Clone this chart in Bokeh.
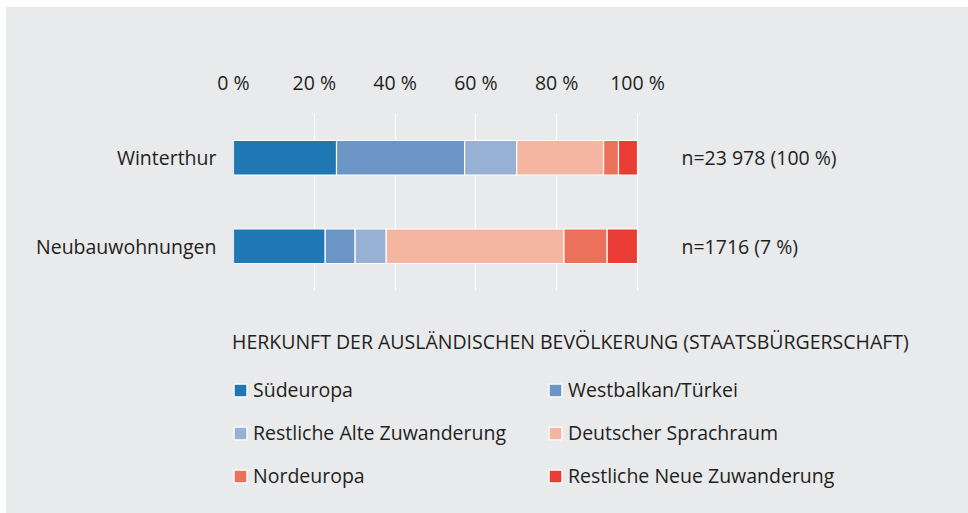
from bokeh.plotting import figure
from bokeh.layouts import column
from bokeh.models import (FactorRange, FixedTicker, Label, Legend, LegendItem)
from bokeh.embed import file_html
from bokeh.resources import INLINE

categories = ["Winterthur", "Neubauwohnungen"]
series_names = ["Südeuropa", "Westbalkan/Türkei", "Restliche Alte Zuwanderung",
                "Deutscher Sprachraum", "Nordeuropa", "Restliche Neue Zuwanderung"]
suedeuropa = [25.5, 22.7]
westbalkan = [31.7, 7.4]
alte_zuwanderung = [12.9, 7.7]
deutscher_sprachraum = [21.5, 44.0]
nordeuropa = [3.7, 10.7]
neue_zuwanderung = [4.7, 7.5]
tick_values = [0, 20, 40, 60, 80, 100]
tick_labels = ["0 %", "20 %", "40 %", "60 %", "80 %", "100 %"]
n_labels = ["n=23 978 (100 %)", "n=1716 (7 %)"]
legend_title = "HERKUNFT DER AUSLÄNDISCHEN BEVÖLKERUNG (STAATSBÜRGERSCHAFT)"

colors = ["#1f77b4", "#6a95c5", "#98b0d3", "#f4b6a1", "#eb715a", "#e83c35"]
BG = "#e9eaec"
TXT = "#231f20"
FONT = "Open Sans"
FS = "19.5px"

keys = ["s0", "s1", "s2", "s3", "s4", "s5"]
data = dict(cat=categories, s0=suedeuropa, s1=westbalkan, s2=alte_zuwanderung,
            s3=deutscher_sprachraum, s4=nordeuropa, s5=neue_zuwanderung)

factors = list(reversed(categories))
FRAME_W = 700
X_END = FRAME_W / 4.04
p = figure(y_range=FactorRange(factors=factors, range_padding=0),
           x_range=(0, X_END), x_axis_location="above",
           frame_width=FRAME_W, frame_height=177,
           min_border_left=227, min_border_right=962 - 227 - FRAME_W,
           min_border_top=106, min_border_bottom=20,
           output_backend="svg", toolbar_location=None)
p.background_fill_alpha = 0
p.border_fill_color = BG
p.outline_line_color = None

renderers = p.hbar_stack(keys, y="cat", height=0.39, color=colors,
                         line_color="white", line_width=1.2, source=data)

p.xaxis.ticker = FixedTicker(ticks=tick_values)
p.xaxis.major_label_overrides = {v: l for v, l in zip(tick_values, tick_labels)}
for ax in (p.xaxis[0], p.yaxis[0]):
    ax.axis_line_color = None
    ax.major_tick_line_color = None
    ax.minor_tick_line_color = None
    ax.major_tick_out = 0
    ax.major_tick_in = 0
    ax.major_label_text_font = FONT
    ax.major_label_text_font_size = FS
    ax.major_label_text_color = TXT
p.xaxis.major_label_standoff = 18
p.yaxis.major_label_standoff = 17

p.xgrid.grid_line_color = "white"
p.xgrid.grid_line_width = 1.2
p.ygrid.grid_line_color = None

# factor centres in the range's synthetic coordinates
for cat, txt in zip(categories, n_labels):
    ypos = factors.index(cat) + 0.5
    p.add_layout(Label(x=100, y=ypos, x_offset=44, text=txt, text_baseline="middle",
                       text_font=FONT, text_font_size=FS, text_color=TXT))

# legend panel (same frame columns as the chart above)
p2 = figure(y_range=FactorRange(factors=factors), x_range=(0, X_END),
            frame_width=FRAME_W, frame_height=203,
            x_axis_location=None, y_axis_location=None,
            min_border_left=227, min_border_right=962 - 227 - FRAME_W,
            min_border_top=0, min_border_bottom=0,
            output_backend="svg", toolbar_location=None)
p2.background_fill_alpha = 0
p2.border_fill_color = BG
p2.outline_line_color = None
p2.grid.visible = False
leg_renderers = p2.hbar_stack(keys, y="cat", height=0.39, color=colors,
                              line_color="white", line_width=1.2, source=data)
for r in leg_renderers:
    r.visible = False

items = [LegendItem(label=n, renderers=[r]) for n, r in zip(series_names, leg_renderers)]

def make_legend(its, loc, title=None):
    kw = dict(items=its, location=loc, orientation="vertical",
              background_fill_alpha=0, border_line_color=None,
              margin=0, padding=0, glyph_width=16, glyph_height=16,
              label_standoff=5, label_height=26, spacing=16,
              label_text_font=FONT, label_text_font_size=FS, label_text_color=TXT)
    if title:
        kw.update(title=title, title_text_font=FONT, title_text_font_size=FS,
                  title_text_color=TXT, title_text_font_style="normal",
                  title_standoff=21)
    return Legend(**kw)

p2.add_layout(make_legend(items[0::2], (-1, 24), legend_title))
p2.add_layout(make_legend(items[1::2], (314, 24)))

layout = column(p, p2, spacing=0)
layout.margin = (7, 0, 0, 6)
layout.styles = {"background-color": BG}
open("out.html", "w").write(file_html(layout, INLINE))
